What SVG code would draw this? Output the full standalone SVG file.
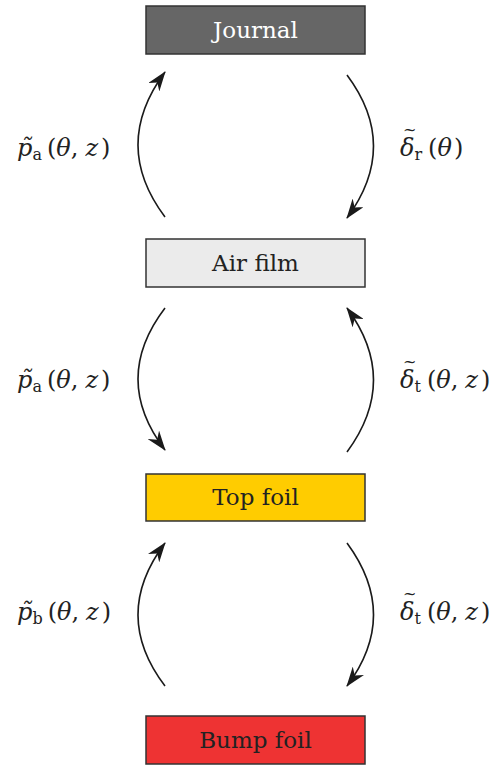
<svg xmlns="http://www.w3.org/2000/svg" width="493" height="765" viewBox="0 0 493 765">
<defs>
<marker id="ah" viewBox="0 0 20 14" refX="19" refY="7" markerWidth="20" markerHeight="14" markerUnits="userSpaceOnUse" orient="auto">
<path d="M0,0 L20,7 L0,14 L6,7 Z" fill="#1a1a1a"/>
</marker>
<style>
.box{stroke:#333;stroke-width:1.5}
.bt{font-family:"DejaVu Serif","Liberation Serif",serif;font-size:23px;text-anchor:middle;fill:#222}
.lb{font-family:"DejaVu Serif","Liberation Serif",serif;font-size:24px;fill:#222}
.td{font-size:16px}
.it{font-style:italic}
.sub{font-size:16px}
.arc{fill:none;stroke:#1a1a1a;stroke-width:1.6;marker-end:url(#ah)}
</style>
</defs>
<g id="journal"><rect class="box" x="146" y="6" width="219" height="48" fill="#666666"/><text class="bt" x="255.5" y="38" style="fill:#fff">Journal</text></g>
<g id="airfilm"><rect class="box" x="146" y="239" width="219" height="48" fill="#ebebeb"/><text class="bt" x="255.5" y="271">Air film</text></g>
<g id="topfoil"><rect class="box" x="146" y="474" width="219" height="47" fill="#ffcc00"/><text class="bt" x="255.5" y="505">Top foil</text></g>
<g id="bumpfoil"><rect class="box" x="146" y="716" width="219" height="48" fill="#ee3333"/><text class="bt" x="255.5" y="748">Bump foil</text></g>
<g id="connectors">
<path class="arc" d="M165,217 Q111,145 165,72"/>
<path class="arc" d="M347,75 Q400,146 347,218"/>
<path class="arc" d="M165,308 Q111,379 165,450"/>
<path class="arc" d="M347,452 Q400,380 347,308"/>
<path class="arc" d="M165,686 Q111,615 165,543"/>
<path class="arc" d="M347,543 Q400,615 347,686"/>
</g>
<g id="labels">
<text class="lb" x="17" y="156"><tspan class="it">p̃</tspan><tspan class="sub" dy="4">a</tspan><tspan dx="5" dy="-4">(</tspan><tspan class="it">θ</tspan>,<tspan class="it" dx="7">z</tspan><tspan dx="3">)</tspan></text>
<text class="lb" x="400" y="156"><tspan class="it">δ</tspan><tspan class="sub" dy="4">r</tspan><tspan dx="6" dy="-4">(</tspan><tspan class="it">θ</tspan><tspan dx="2">)</tspan><tspan class="td" x="403" y="135">~</tspan></text>
<text class="lb" x="17" y="388"><tspan class="it">p̃</tspan><tspan class="sub" dy="4">a</tspan><tspan dx="5" dy="-4">(</tspan><tspan class="it">θ</tspan>,<tspan class="it" dx="7">z</tspan><tspan dx="3">)</tspan></text>
<text class="lb" x="400" y="388"><tspan class="it">δ</tspan><tspan class="sub" dy="4">t</tspan><tspan dx="6" dy="-4">(</tspan><tspan class="it">θ</tspan>,<tspan class="it" dx="7">z</tspan><tspan dx="3">)</tspan><tspan class="td" x="403" y="367">~</tspan></text>
<text class="lb" x="17" y="620"><tspan class="it">p̃</tspan><tspan class="sub" dy="4">b</tspan><tspan dx="5" dy="-4">(</tspan><tspan class="it">θ</tspan>,<tspan class="it" dx="7">z</tspan><tspan dx="3">)</tspan></text>
<text class="lb" x="400" y="620"><tspan class="it">δ</tspan><tspan class="sub" dy="4">t</tspan><tspan dx="6" dy="-4">(</tspan><tspan class="it">θ</tspan>,<tspan class="it" dx="7">z</tspan><tspan dx="3">)</tspan><tspan class="td" x="403" y="599">~</tspan></text>
</g>
</svg>
